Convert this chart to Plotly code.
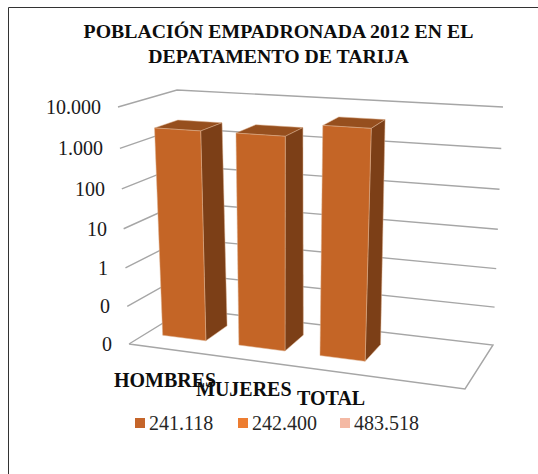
import math
import plotly.graph_objects as go

# --- data ---
categories = ["HOMBRES", "MUJERES", "TOTAL"]
values = [2400, 2420, 5000]
legend_names = ["241.118", "242.400", "483.518"]
tick_values = [0.01, 0.1, 1, 10, 100, 1000, 10000]
tick_labels = ["0", "0", "1", "10", "100", "1.000", "10.000"]

# --- styles / layout ---
FONT = "Liberation Serif"
legend_colors = ["#C5652A", "#ED7D31", "#F4B9A4"]
FRONT, SIDE, TOP = "#C46526", "#7C3F17", "#964F1E"
GRID = "#A6A6A6"
title = "POBLACIÓN EMPADRONADA 2012 EN EL<br>DEPATAMENTO DE TARIJA"

# projected box: (depth front/back, across left/right, floor/ceiling) corners
FLOOR = {"fl": (129, 344), "fr": (465, 389), "bl": (186, 309), "br": (493, 345)}
CEIL = {"fl": (118, 107), "fr": (482, 129), "bl": (177, 90), "br": (503, 107)}
PERSPECTIVE = 0.055
bar_spans = [(0.049, 0.181), (0.282, 0.423), (0.53, 0.668)]
bar_depth = (0.31, 0.72)
cat_u = [0.107, 0.343, 0.60]
cat_drop = [31, 29.5, 27]
legend_x = [140, 243, 345]
legend_y = 423


def height(v):
    lo, hi = math.log10(tick_values[0]), math.log10(tick_values[-1])
    h = (math.log10(v) - lo) / (hi - lo)
    return h - PERSPECTIVE * h * (1 - h)


def bilinear(c, u, d, i):
    front = c["fl"][i] + (c["fr"][i] - c["fl"][i]) * u
    back = c["bl"][i] + (c["br"][i] - c["bl"][i]) * u
    return front + (back - front) * d


def P(u, d, h):
    return tuple(
        bilinear(FLOOR, u, d, i) * (1 - h) + bilinear(CEIL, u, d, i) * h
        for i in (0, 1)
    )


def poly(points, **kw):
    xs = [p[0] for p in points]
    ys = [p[1] for p in points]
    return go.Scatter(x=xs, y=ys, hoverinfo="skip", showlegend=False, **kw)


def face(points, color):
    return poly(
        points + points[:1],
        mode="lines",
        fill="toself",
        fillcolor=color,
        line=dict(color="#DDB08F", width=0.5),
    )


fig = go.Figure()

# walls
for t in tick_values[1:]:
    h = height(t)
    fig.add_trace(
        poly([P(0, 0, h), P(0, 1, h), P(1, 1, h)], mode="lines",
             line=dict(color=GRID, width=1.4))
    )
fig.add_trace(
    poly([P(0, 0, 0), P(0, 1, 0), P(1, 1, 0), P(1, 0, 0), P(0, 0, 0)], mode="lines",
         line=dict(color=GRID, width=1.4))
)

# bars
d0, d1 = bar_depth
for v, (u0, u1) in zip(values, bar_spans):
    h = height(v)
    fig.add_trace(face([P(u0, d0, h), P(u1, d0, h), P(u1, d1, h), P(u0, d1, h)], TOP))
    fig.add_trace(face([P(u1, d0, 0), P(u1, d1, 0), P(u1, d1, h), P(u1, d0, h)], SIDE))
    fig.add_trace(face([P(u0, d0, 0), P(u1, d0, 0), P(u1, d0, h), P(u0, d0, h)], FRONT))

annotations = []

# legend row: square swatch followed by its series name
for name, col, lx in zip(legend_names, legend_colors, legend_x):
    fig.add_trace(
        go.Scatter(
            x=[lx], y=[legend_y], mode="markers", name=name, showlegend=False,
            marker=dict(symbol="square", size=10, color=col),
            hoverinfo="name",
        )
    )
    annotations.append(
        dict(x=lx + 7, y=legend_y, text=name, showarrow=False,
             xanchor="left", yanchor="middle",
             font=dict(family=FONT, size=20, color="#262626"))
    )

for t, lab in zip(tick_values, tick_labels):
    x, y = P(0, 0, height(t))
    annotations.append(
        dict(x=x - 15, y=y, text=lab, showarrow=False, xanchor="right", yanchor="middle",
             font=dict(family=FONT, size=20, color="#1a1a1a"))
    )
for cat, u, drop in zip(categories, cat_u, cat_drop):
    x, y = P(u, 0, 0)
    annotations.append(
        dict(x=x, y=y + drop, text=f"<b>{cat}</b>", showarrow=False,
             xanchor="center", yanchor="middle",
             font=dict(family=FONT, size=20, color="#0d0d0d"))
    )

fig.update_layout(
    width=538, height=474, autosize=False,
    margin=dict(l=0, r=0, t=0, b=0),
    paper_bgcolor="white", plot_bgcolor="white",
    showlegend=False,
    title=dict(
        text=f"<b>{title}</b>", x=278.5 / 538, y=1 - 37.5 / 474,
        xanchor="center", yanchor="middle",
        font=dict(family=FONT, size=19.8, color="#0d0d0d"),
    ),
    xaxis=dict(range=[0, 538], visible=False, fixedrange=True),
    yaxis=dict(range=[474, 0], visible=False, fixedrange=True),
    annotations=annotations,
    shapes=[
        dict(type="line", xref="x", yref="y", x0=8.5, x1=8.5, y0=7.5, y1=474,
             line=dict(color="#333333", width=1)),
        dict(type="line", xref="x", yref="y", x0=8.5, x1=538, y0=7.5, y1=7.5,
             line=dict(color="#333333", width=1)),
    ],
)

fig.write_html(
    "out.html",
    config={"displayModeBar": False},
    post_script="document.body.style.margin='0';",
)
